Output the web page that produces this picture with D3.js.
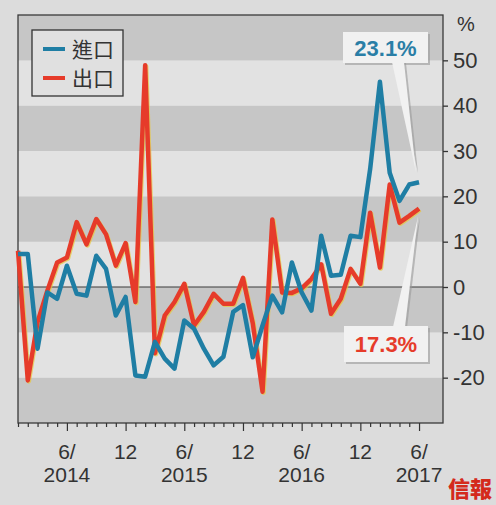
<!DOCTYPE html>
<html>
<head>
<meta charset="utf-8">
<script src="https://cdn.jsdelivr.net/npm/d3@7"></script>
<style>
  body { margin: 0; background: #dcdcdc; }
  svg { display: block; }
</style>
</head>
<body>
<div id="chart"></div>
<script>
var width = 496;
var height = 505;
var importColor = '#1f7ea4';
var exportColor = '#e63b2a';

// monthly, Jan 2014 .. Jun 2017
var months = d3.timeMonth.range(new Date(2014, 0, 1), new Date(2017, 6, 1));

// 出口 (exports), % yoy
var exportsPct = [8.0, -20.6, -7.7, -0.8, 5.4, 6.5, 14.3, 9.4, 15.0, 11.6, 4.7, 9.7,
    -3.3, 48.9, -14.6, -6.3, -3.3, 0.7, -8.5, -5.5, -1.5, -3.7, -3.7, 2.0,
    -8.0, -23.1, 14.9, -1.2, -1.3, -0.3, 1.8, 5.0, -5.9, -2.6, 4.0, 0.7,
    16.4, 4.3, 22.6, 14.2, 15.7, 17.3];

// 進口 (imports), % yoy
var importsPct = [7.3, 7.3, -13.6, -1.2, -2.6, 4.7, -1.5, -1.9, 6.9, 4.0, -6.3, -2.2,
    -19.5, -19.8, -12.1, -15.8, -18.0, -7.4, -9.2, -13.6, -17.3, -15.4, -5.5, -4.0,
    -15.5, -8.5, -1.9, -5.6, 5.4, -1.2, -5.2, 11.3, 2.5, 2.7, 11.3, 11.0,
    26.0, 45.3, 25.2, 19.0, 22.6, 23.1];

var yTicks = [-20, -10, 0, 10, 20, 30, 40, 50];
var bandEdges = [-30, -20, -10, 0, 10, 20, 30, 40, 50];

var plot = {left: 18, right: 443, top: 15, bottom: 423};

var svg = d3.select("#chart")
    .append("svg")
    .attr("width", width)
    .attr("height", height);

// month index -> x (last month sits a bit in from the right frame)
var x = d3.scaleLinear()
    .domain([0, 43.45])
    .range([plot.left, plot.right]);

var y = d3.scaleLinear()
    .domain([-30, 60])
    .range([plot.bottom, plot.top]);

// grey / light bands
svg.append("g")
    .selectAll("rect")
    .data(bandEdges)
    .enter()
    .append("rect")
    .attr("x", plot.left)
    .attr("width", plot.right - plot.left)
    .attr("y", d => y(d + 10))
    .attr("height", d => y(d) - y(d + 10))
    .style("fill", (d, i) => i % 2 === 0 ? "#c6c6c6" : "#e2e2e2");

// zero line
svg.append("line")
    .attr("x1", plot.left).attr("x2", plot.right)
    .attr("y1", y(0)).attr("y2", y(0))
    .style("stroke", "#3a3a3a")
    .style("stroke-width", 1.2);

// frame
svg.append("rect")
    .attr("x", plot.left)
    .attr("y", plot.top)
    .attr("width", plot.right - plot.left)
    .attr("height", plot.bottom - plot.top)
    .style("fill", "none")
    .style("stroke", "#3a3a3a")
    .style("stroke-width", 1.3);

// y axis on the right (plain hyphen for negatives, like the print)
var yAxis = d3.axisRight(y)
    .tickValues(yTicks)
    .tickSize(5)
    .tickPadding(5)
    .tickFormat(d => String(d));

var gy = svg.append("g")
    .attr("transform", "translate(" + plot.right + ",0)")
    .call(yAxis);
gy.select(".domain").remove();
gy.selectAll("line").style("stroke", "#333").style("stroke-width", 1.3);
gy.selectAll("text")
    .style("font-family", "'Liberation Sans', Arial, sans-serif")
    .style("font-size", "22px")
    .style("fill", "#333");

svg.append("text")
    .attr("x", 466)
    .attr("y", 31)
    .attr("text-anchor", "middle")
    .style("font-family", "'Liberation Sans', Arial, sans-serif")
    .style("font-size", "20px")
    .style("fill", "#333")
    .text("%");

// x axis ticks: every month, longer on Jun / Dec
var xAxis = d3.axisBottom(x)
    .tickValues(d3.range(months.length))
    .tickSize(0)
    .tickFormat("");
var gx = svg.append("g")
    .attr("transform", "translate(0," + plot.bottom + ")")
    .call(xAxis);
gx.select(".domain").remove();
gx.selectAll(".tick line")
    .attr("y2", (d) => (months[d].getMonth() === 5 || months[d].getMonth() === 11) ? 8 : 4)
    .style("stroke", "#333")
    .style("stroke-width", 1.2);

var labelMonths = d3.range(months.length)
    .filter(i => months[i].getMonth() === 5 || months[i].getMonth() === 11);

var labelStyle = function (sel) {
    sel.attr("text-anchor", "middle")
        .style("font-family", "'Liberation Sans', Arial, sans-serif")
        .style("font-size", "21px")
        .style("fill", "#333");
};

svg.append("g")
    .selectAll("text")
    .data(labelMonths)
    .enter()
    .append("text")
    .attr("x", d => x(d))
    .attr("y", 459)
    .call(labelStyle)
    .text(d => months[d].getMonth() === 5 ? "6/" : "12");

svg.append("g")
    .selectAll("text")
    .data(labelMonths.filter(i => months[i].getMonth() === 5))
    .enter()
    .append("text")
    .attr("x", d => x(d))
    .attr("y", 482)
    .call(labelStyle)
    .text(d => months[d].getFullYear());

// lines
var line = d3.line()
    .x((d, i) => x(i))
    .y(d => y(d))
    .curve(d3.curveLinear);

svg.append("path")
    .datum(exportsPct)
    .attr("d", line)
    .attr("transform", "translate(1,1)")
    .style("fill", "none")
    .style("stroke", "#e8c83a")
    .style("stroke-opacity", 0.7)
    .style("stroke-width", 4.5)
    .style("stroke-linejoin", "round");

svg.append("path")
    .datum(exportsPct)
    .attr("d", line)
    .style("fill", "none")
    .style("stroke", exportColor)
    .style("stroke-width", 4.5)
    .style("stroke-linejoin", "round");

svg.append("path")
    .datum(importsPct)
    .attr("d", line)
    .style("fill", "none")
    .style("stroke", importColor)
    .style("stroke-width", 4.5)
    .style("stroke-linejoin", "round");

// legend
var legend = svg.append("g").attr("class", "legend");
legend.append("rect")
    .attr("x", 32).attr("y", 30)
    .attr("width", 91).attr("height", 66)
    .style("fill", "#e0e0e0")
    .style("stroke", "#333")
    .style("stroke-width", 1.3);
var legendItems = [["進口", importColor], ["出口", exportColor]];
legendItems.forEach(function (item, i) {
    var ly = 49 + i * 29;
    legend.append("line")
        .attr("x1", 43).attr("x2", 65)
        .attr("y1", ly).attr("y2", ly)
        .style("stroke", item[1])
        .style("stroke-width", 4);
    legend.append("text")
        .attr("x", 72)
        .attr("y", ly + 8)
        .style("font-family", "'Noto Sans CJK TC', sans-serif")
        .style("font-size", "21px")
        .style("fill", "#333")
        .text(item[0]);
});

// callouts for the latest values
function callout(boxX, boxY, boxW, boxH, base, tip, label, color) {
    var g = svg.append("g");
    var wedge = [[base[0], base[1]], [base[0] + 12, base[1]], tip];
    g.append("polygon")
        .attr("points", wedge.map(p => (p[0] + 2) + "," + (p[1] + 1)).join(" "))
        .style("fill", "#9a9a9a")
        .style("opacity", 0.6);
    g.append("rect")
        .attr("x", boxX + 2).attr("y", boxY + 2)
        .attr("width", boxW).attr("height", boxH)
        .style("fill", "#9a9a9a")
        .style("opacity", 0.6);
    g.append("rect")
        .attr("x", boxX).attr("y", boxY)
        .attr("width", boxW).attr("height", boxH)
        .style("fill", "#f1f1f1");
    g.append("polygon")
        .attr("points", wedge.map(p => p.join(",")).join(" "))
        .style("fill", "#f1f1f1");
    g.append("text")
        .attr("x", boxX + boxW / 2)
        .attr("y", boxY + boxH / 2 + 8)
        .attr("text-anchor", "middle")
        .style("font-family", "'Liberation Sans', Arial, sans-serif")
        .style("font-weight", "bold")
        .style("font-size", "22px")
        .style("fill", color)
        .text(label);
}

var last = months.length - 1;
callout(343, 32, 85, 31, [392, 62], [x(last) - 3, y(importsPct[last]) - 10],
    importsPct[last].toFixed(1) + "%", "#2a7ea6");
callout(344, 326, 84, 36, [393, 327], [x(last) - 1, y(exportsPct[last]) + 8],
    exportsPct[last].toFixed(1) + "%", exportColor);

// masthead mark
svg.append("text")
    .attr("x", 470)
    .attr("y", 497)
    .attr("text-anchor", "middle")
    .style("font-family", "'Noto Sans CJK TC', sans-serif")
    .style("font-weight", "900")
    .style("font-size", "22px")
    .style("fill", "#d42a1c")
    .text("信報");
</script>
</body>
</html>
